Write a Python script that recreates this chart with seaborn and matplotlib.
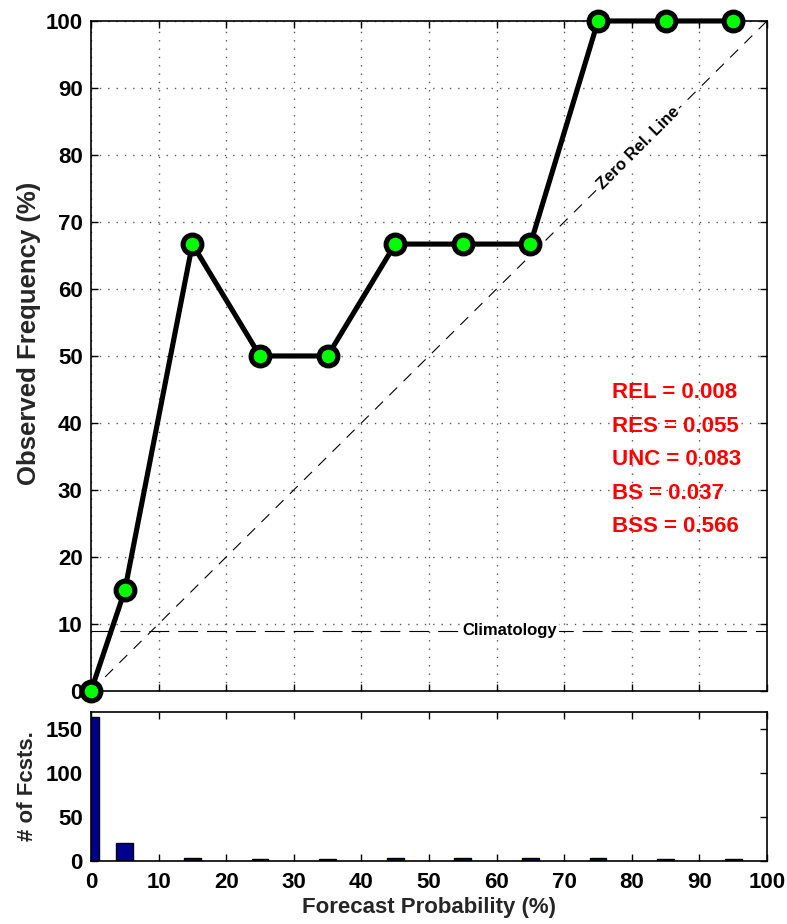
import numpy as np
import pandas as pd
import matplotlib
matplotlib.use("Agg")
import matplotlib.pyplot as plt
import seaborn as sns

# Reliability diagram data
fcst_prob = [0, 5, 15, 25, 35, 45, 55, 65, 75, 85, 95]
obs_freq = [0, 15, 66.7, 50, 50, 66.7, 66.7, 66.7, 100, 100, 100]
n_fcsts = [163, 20, 3, 2, 2, 3, 3, 3, 3, 2, 2]
climatology = 9.0

stat_names = ["REL", "RES", "UNC", "BS", "BSS"]
stat_values = [0.008, 0.055, 0.083, 0.037, 0.566]

sns.set_style("ticks")
plt.rcParams["font.family"] = ["Liberation Sans", "DejaVu Sans"]
plt.rcParams["font.weight"] = "bold"
plt.rcParams["axes.labelweight"] = "bold"

FS = 16
fig = plt.figure(figsize=(7.87, 9.24), dpi=100)
ax = fig.add_axes([0.1156, 0.2522, 0.8590, 0.7251])
axh = fig.add_axes([0.1156, 0.0682, 0.8590, 0.1612])

df = pd.DataFrame({"prob": fcst_prob, "freq": obs_freq, "n": n_fcsts})

# --- reliability curve ---
ax.grid(True, linestyle=(0, (1, 5)), color="0.35", linewidth=1.0)
ax.plot([0, 100], [0, 100], color="black", lw=0.8, ls=(0, (10, 8)), zorder=2)
ax.axhline(climatology, color="black", lw=0.8, ls=(0, (18, 8)), zorder=2)
sns.lineplot(data=df, x="prob", y="freq", ax=ax, color="black", lw=3.7,
             marker="o", markersize=13.5, markerfacecolor="#00FF00",
             markeredgecolor="black", markeredgewidth=3.7, zorder=5)
for ln in ax.lines:
    ln.set_clip_on(False)

ax.text(81, 81, "Zero Rel. Line", rotation=45, ha="center", va="center",
        fontsize=12, fontweight="bold", color="black",
        bbox=dict(facecolor="white", edgecolor="none", pad=1.5), zorder=3)
ax.text(62, climatology, "Climatology", ha="center", va="center",
        fontsize=12, fontweight="bold", color="black",
        bbox=dict(facecolor="white", edgecolor="none", pad=1.5), zorder=3)

for i, (nm, val) in enumerate(zip(stat_names, stat_values)):
    ax.text(77, 44.5 - 5 * i, f"{nm} = {val:.3f}", color="#FF0000",
            fontsize=FS, fontweight="bold", ha="left", va="center", zorder=6)

ax.set_xlim(0, 100)
ax.set_ylim(0, 100)
ax.set_xticks(np.arange(0, 101, 10))
ax.set_yticks(np.arange(0, 101, 10))
ax.set_xticklabels([])
ax.set_xlabel("")
ax.set_ylabel("Observed Frequency (%)", fontsize=18.5, fontweight="bold")
ax.yaxis.set_label_coords(-0.074, 0.533)

# --- forecast counts histogram ---
sns.barplot(data=df, x="prob", y="n", ax=axh, native_scale=True, width=0.5,
            color="#00008F", saturation=1, edgecolor="black", linewidth=1,
            errorbar=None)
axh.set_xlim(0, 100)
axh.set_ylim(0, 169)
axh.set_xticks(np.arange(0, 101, 10))
axh.set_xticklabels([str(v) for v in range(0, 101, 10)])
axh.set_yticks([0, 50, 100, 150])
axh.set_xlabel("Forecast Probability (%)", fontsize=FS, fontweight="bold", labelpad=3)
axh.set_ylabel("# of Fcsts.", fontsize=FS, fontweight="bold")
axh.yaxis.set_label_coords(-0.078, 0.5)

for a in (ax, axh):
    for s in a.spines.values():
        s.set_visible(True)
        s.set_linewidth(1.2)
        s.set_color("black")
    a.tick_params(direction="in", length=5, width=1, top=True, right=True,
                  labelsize=FS, pad=6, colors="black")
    for lab in a.get_xticklabels() + a.get_yticklabels():
        lab.set_fontweight("bold")
axh.tick_params(axis="x", pad=8)

fig.savefig("out.png", dpi=100)
